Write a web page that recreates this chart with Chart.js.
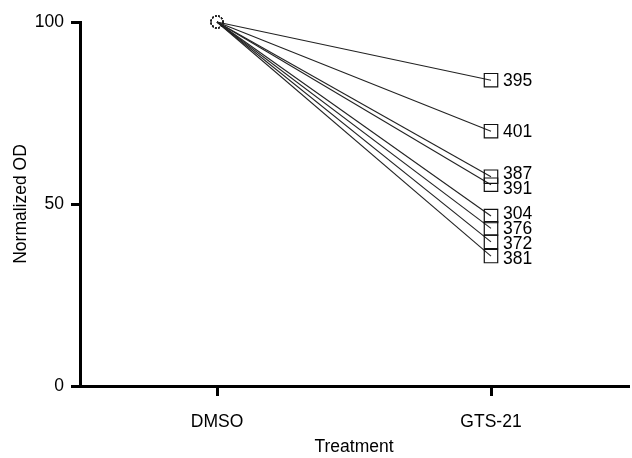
<!DOCTYPE html>
<html>
<head>
<meta charset="utf-8">
<script src="https://cdn.jsdelivr.net/npm/chart.js@4/dist/chart.umd.min.js"></script>
<style>
  html, body { margin: 0; padding: 0; background: #fff; }
  #wrap { width: 632px; height: 458px; }
</style>
</head>
<body>
<div id="wrap"><canvas id="c" width="632" height="458"></canvas></div>
<script>
// ---- data ----
const categories = ['DMSO', 'GTS-21'];
const sampleIds = ['395', '401', '387', '391', '304', '376', '372', '381'];
const dmsoValues = [100, 100, 100, 100, 100, 100, 100, 100];
const gtsValues = [84, 70, 57.5, 55.3, 46.7, 43.3, 39.6, 35.7];
const yTicks = [0, 50, 100];
const yTitle = 'Normalized OD';
const xTitle = 'Treatment';

const FONT = '"Liberation Sans", Arial, Helvetica, sans-serif';

// dotted circle marker for the DMSO point
const dot = document.createElement('canvas');
dot.width = 16; dot.height = 16;
(function () {
  const g = dot.getContext('2d');
  g.strokeStyle = '#222';
  g.lineWidth = 1.2;
  g.setLineDash([1.6, 1.6]);
  g.beginPath();
  g.arc(8, 8, 6, 0, Math.PI * 2);
  g.stroke();
})();

const datasets = sampleIds.map((id, i) => ({
  label: id,
  data: [dmsoValues[i], gtsValues[i]],
  borderColor: '#222',
  borderWidth: 1.1,
  pointStyle: [dot, 'rect'],
  pointRadius: 9.5,
  pointBorderWidth: 1.2,
  pointBorderColor: '#111',
  pointBackgroundColor: 'rgba(0,0,0,0)',
  tension: 0,
  clip: false
}));

// end labels with simple collision avoidance
const endLabels = {
  id: 'endLabels',
  afterDatasetsDraw(chart) {
    const ctx = chart.ctx;
    const gap = 15;
    let items = chart.data.datasets.map((ds, i) => {
      const el = chart.getDatasetMeta(i).data[1];
      return { text: ds.label, x: el.x, y: el.y };
    }).sort((a, b) => a.y - b.y);
    let groups = items.map(it => ({ items: [it], mean: it.y }));
    let changed = true;
    while (changed) {
      changed = false;
      for (let k = 0; k < groups.length - 1; k++) {
        const a = groups[k], b = groups[k + 1];
        const aTop = a.mean - (a.items.length - 1) * gap / 2;
        const aBot = aTop + (a.items.length - 1) * gap;
        const bTop = b.mean - (b.items.length - 1) * gap / 2;
        if (bTop - aBot < gap) {
          const all = a.items.concat(b.items);
          groups.splice(k, 2, { items: all, mean: all.reduce((s, t) => s + t.y, 0) / all.length });
          changed = true;
          break;
        }
      }
    }
    ctx.save();
    ctx.font = '17.5px ' + FONT;
    ctx.fillStyle = '#000';
    ctx.textAlign = 'left';
    ctx.textBaseline = 'middle';
    groups.forEach(g => {
      const top = g.mean - (g.items.length - 1) * gap / 2;
      g.items.forEach((it, j) => {
        ctx.fillText(it.text, it.x + 12, top + j * gap + 1);
      });
    });
    ctx.restore();
  }
};

new Chart(document.getElementById('c'), {
  type: 'line',
  data: { labels: categories, datasets },
  plugins: [endLabels],
  options: {
    responsive: false,
    animation: false,
    layout: { autoPadding: false, padding: { left: 0, top: 22, right: 4, bottom: 0 } },
    plugins: { legend: { display: false }, tooltip: { enabled: false } },
    scales: {
      x: {
        type: 'category',
        offset: true,
        grid: { drawOnChartArea: false, drawTicks: true, tickLength: 10, color: '#000', lineWidth: 3, offset: false },
        border: { display: true, color: '#000', width: 3 },
        ticks: { color: '#000', font: { family: FONT, size: 17.5 }, padding: 16 },
        title: { display: true, text: xTitle, color: '#000', font: { family: FONT, size: 17.5 }, padding: { top: 0, bottom: 0 } },
        afterFit(s) { s.height = 72; }
      },
      y: {
        min: 0, max: 100,
        afterBuildTicks(s) { s.ticks = yTicks.map(v => ({ value: v })); },
        grid: { drawOnChartArea: false, drawTicks: true, tickLength: 9, color: '#000', lineWidth: 3 },
        border: { display: true, color: '#000', width: 3 },
        ticks: { color: '#000', font: { family: FONT, size: 17.5 }, padding: 7 },
        title: { display: true, text: yTitle, color: '#000', font: { family: FONT, size: 17.5 }, padding: { top: 11, bottom: 0 } },
        afterFit(s) { s.width = 80; }
      }
    }
  }
});
</script>
</body>
</html>
